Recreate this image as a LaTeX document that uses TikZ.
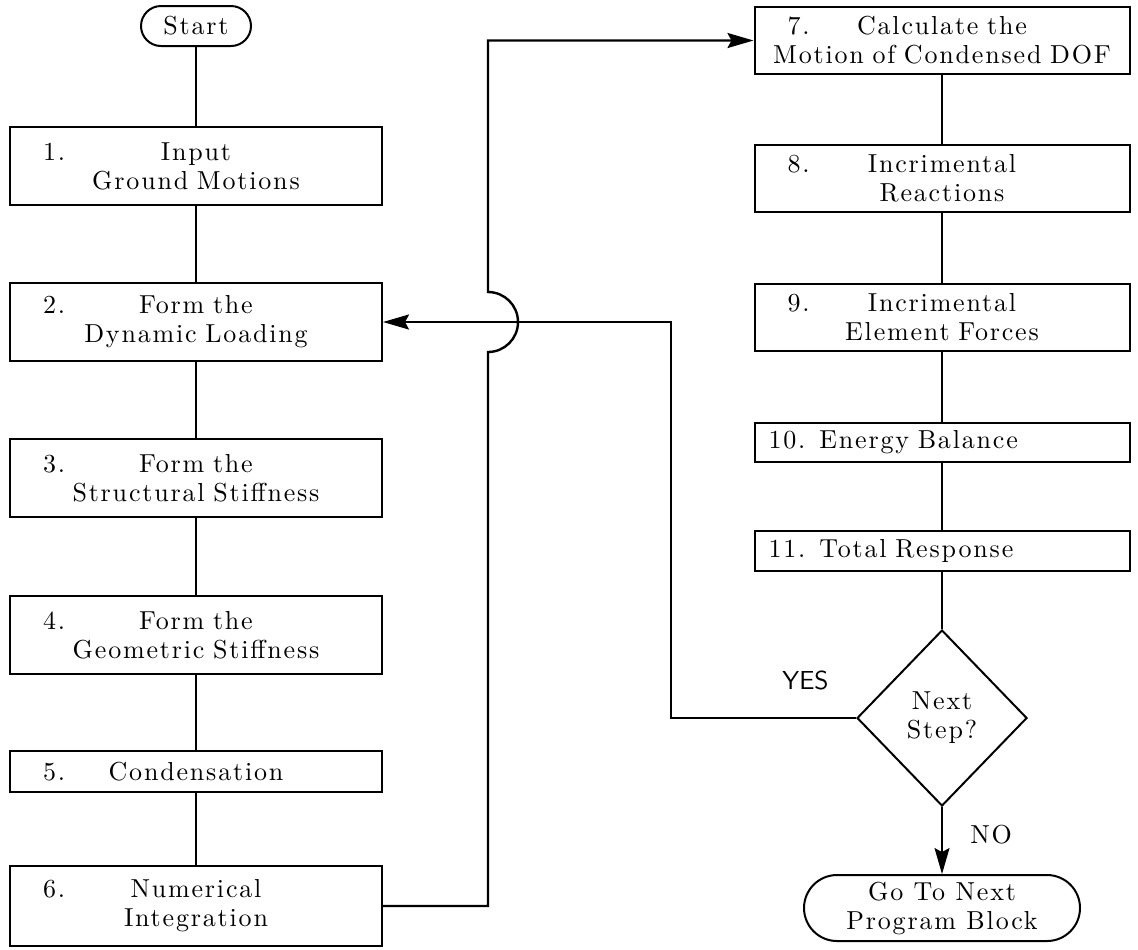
\documentclass[tikz,border=0pt]{standalone}
\usepackage{fontspec}
\newfontfamily\flowfont{lmroman10-regular}[Extension=.otf, LetterSpace=7]
\usetikzlibrary{shapes.geometric, shapes.misc, arrows.meta, positioning, calc}

\newcommand{\numtxt}[2]{\makebox[\hsize]{\rlap{\hspace*{13.5pt}#1}\hfill#2\hfill}}

\begin{document}
\begin{tikzpicture}[
    x=0.5pt, y=-0.5pt,
    txt/.style={font=\flowfont\fontsize{13}{14.5}\selectfont},
    leftbox/.style={rectangle, draw, line width=1pt, txt, text width=180pt, align=center, inner xsep=3pt, inner ysep=0pt, minimum height=39pt},
    rightbox/.style={leftbox, text width=181.5pt, minimum height=33.5pt},
    term/.style={rounded rectangle, draw, line width=1pt, txt, align=center, inner sep=2pt},
    decide/.style={diamond, draw, line width=1pt, txt, align=center, inner sep=0pt, minimum width=85pt, minimum height=88pt},
    link/.style={line width=0.6pt},
    flow/.style={line width=1.2pt},
    arrow/.style={-{Stealth[length=13pt, width=7.5pt, inset=2pt]}}
]
\useasboundingbox (0,0) rectangle (1138,949);

\node[term, minimum width=59pt, minimum height=20pt] (start) at (196,26) {Start};
\node[leftbox, below=39.5pt of start] (b1) {\numtxt{1.}{Input}\\Ground Motions};
\node[leftbox, below=38pt of b1] (b2) {\numtxt{2.}{Form the}\\Dynamic Loading};
\node[leftbox, below=38pt of b2] (b3) {\numtxt{3.}{Form the}\\Structural Stiffness};
\node[leftbox, below=38.5pt of b3] (b4) {\numtxt{4.}{Form the}\\Geometric Stiffness};
\node[leftbox, below=37.5pt of b4, minimum height=20.5pt] (b5) {\numtxt{5.}{Condensation}};
\node[leftbox, below=36pt of b5, minimum height=40pt] (b6) {\numtxt{6.}{Numerical}\\Integration};

\node[rightbox] (b7) at (942,40.5) {\numtxt{7.}{Calculate the}\\Motion of Condensed DOF};
\node[rightbox, below=34.5pt of b7] (b8) {\numtxt{8.}{Incrimental}\\Reactions};
\node[rightbox, below=35pt of b8] (b9) {\numtxt{9.}{Incrimental}\\Element Forces};
\node[rightbox, below=35pt of b9, minimum height=19.5pt, align=left] (b10) {\hspace*{4pt}10.\hspace{7pt}Energy Balance};
\node[rightbox, below=33.5pt of b10, minimum height=20pt, align=left] (b11) {\hspace*{4pt}11.\hspace{7pt}Total Response};
\node[decide, below=28.5pt of b11] (dec) {Next\\Step?};
\node[term, below=33.5pt of dec, minimum width=142pt, minimum height=33pt] (goto) {Go To Next\\Program Block};

\node[inner sep=0pt, font=\fontsize{13}{14.5}\sffamily\selectfont, above left=14pt and 13.5pt of dec.west] (yes) {YES};
\node[txt, inner sep=0pt, below right=9pt and 14pt of dec.south] (no) {NO};

\coordinate (hop) at (488,319);
\coordinate (back) at (671,722);

\draw[link] (start) -- (b1) -- (b2) -- (b3) -- (b4) -- (b5) -- (b6);
\draw[link] (b7) -- (b8) -- (b9) -- (b10) -- (b11) -- (dec);
\draw[link, arrow] (dec) -- (goto);
\draw[flow, arrow] (b6.east) -- (b6.east -| hop) -- ($(hop |- b2.east)+(0pt,-15pt)$) arc[start angle=-90, end angle=90, radius=15pt] -- (hop |- b7.west) -- (b7.west);
\draw[flow, arrow] (dec.west) -- (dec.west -| back) -- (back |- b2.east) -- (b2.east);
\end{tikzpicture}
\end{document}
